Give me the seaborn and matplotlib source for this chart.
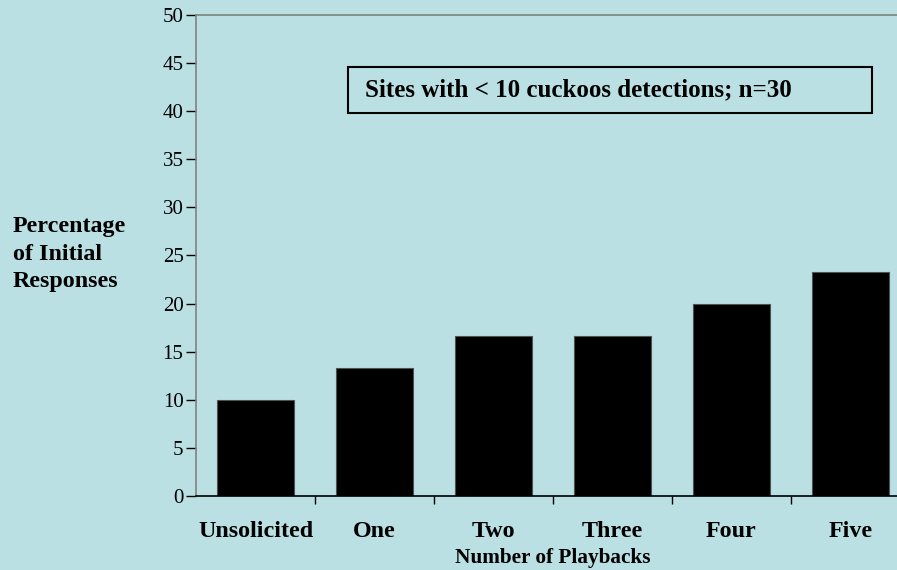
import numpy as np
import pandas as pd
import matplotlib
matplotlib.use('Agg')
import matplotlib.pyplot as plt
from matplotlib.patches import Rectangle
import seaborn as sns

# datos (n=30 sitios)
categorias = ['Unsolicited', 'One', 'Two', 'Three', 'Four', 'Five']
porcentajes = [10.0, 13.33, 16.67, 16.67, 20.0, 23.33]
yticks = list(range(0, 51, 5))

df = pd.DataFrame({'playbacks': categorias, 'pct': porcentajes})

bg = '#bae0e3'
sns.set_style('white')
plt.rcParams['font.family'] = ['Liberation Serif', 'DejaVu Serif']
plt.rcParams['text.color'] = 'black'
plt.rcParams['xtick.color'] = 'black'
plt.rcParams['ytick.color'] = 'black'
plt.rcParams['axes.labelcolor'] = 'black'

fig = plt.figure(figsize=(8.97, 5.70), dpi=100, facecolor=bg)
ax = fig.add_axes([196/897, 74/570, 714/897, 481/570])
ax.set_facecolor(bg)

sns.barplot(data=df, x='playbacks', y='pct', color='black', width=0.64,
            edgecolor='#505050', linewidth=0.8, saturation=1, ax=ax)

ax.set_xlim(-0.5, 5.5)
ax.set_ylim(0, 50)
ax.set_yticks(yticks)
ax.set_yticklabels([str(t) for t in yticks], fontsize=15)
ax.tick_params(axis='y', length=7, width=1, color='black', pad=2, direction='out', left=True)

# etiquetas centradas, marcas entre categorias
ax.set_xticks(range(len(categorias)))
ax.set_xticklabels(categorias, fontsize=17.3, fontweight='bold')
ax.tick_params(axis='x', which='major', length=0, pad=18)
ax.set_xticks(np.arange(0.5, len(categorias) - 0.5, 1), minor=True)
ax.tick_params(axis='x', which='minor', length=6, width=1, color='black', direction='out', bottom=True)

ax.set_xlabel('Number of Playbacks', fontsize=15.3, fontweight='bold', labelpad=4)
ax.set_ylabel('')

for s in ['left', 'top', 'right']:
    ax.spines[s].set_color('#808080')
    ax.spines[s].set_linewidth(1.2)
ax.spines['bottom'].set_color('black')
ax.spines['bottom'].set_linewidth(1.2)

fig.text(13/897, 1 - 254/570, 'Percentage\nof Initial\nResponses', ha='left', va='center',
         fontsize=17.3, fontweight='bold', linespacing=1.4)

# recuadro con el texto
fig.patches.append(Rectangle((348/897, 1 - 113/570), 524/897, 46/570, transform=fig.transFigure,
                             fill=False, edgecolor='black', linewidth=1.5))
fig.text(365/897, 1 - 90/570, 'Sites with < 10 cuckoos detections; n=30', ha='left', va='center',
         fontsize=18, fontweight='bold')

plt.savefig('out.png', dpi=100, facecolor=bg)
